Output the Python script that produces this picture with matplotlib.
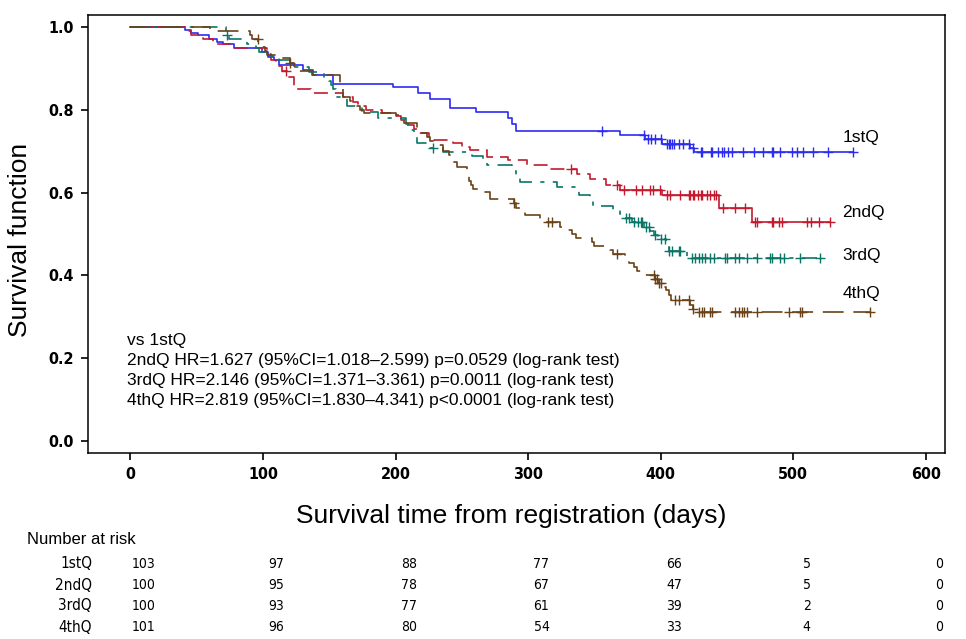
import numpy as np
import matplotlib
matplotlib.use("Agg")
import matplotlib.pyplot as plt
import matplotlib.transforms as mtransforms
from matplotlib.font_manager import FontProperties, findfont

# ---------------- data ----------------
groups = ["1stQ", "2ndQ", "3rdQ", "4thQ"]

q1_times = [41, 46, 51, 59, 65, 70, 78, 99, 104, 108, 112, 130, 138, 153, 198, 217, 226, 241, 261, 285, 288, 291,
            369, 388, 401, 422, 425]
q1_surv = [0.993, 0.986, 0.980, 0.971, 0.964, 0.958, 0.950, 0.940, 0.928, 0.920, 0.908, 0.896, 0.884, 0.862,
           0.854, 0.840, 0.826, 0.804, 0.795, 0.780, 0.765, 0.748, 0.739, 0.729, 0.718, 0.708, 0.699]
q1_cens = [356, 387, 390, 393, 396, 400, 405, 406, 407, 408.5, 410, 413.5, 417, 421,
           424.5, 430, 431, 438, 439, 443.5, 446, 448, 451, 454, 462, 470, 477, 484, 485, 490, 499, 503, 507,
           515, 526, 545]

q2_times = [41, 46, 55, 62, 76, 103, 106, 110, 114, 118, 123, 136, 160, 168, 172, 178, 190, 200, 204, 207, 214,
            218, 225, 228, 243, 250, 256, 269, 285, 299, 314, 337, 347, 359, 369, 401, 444, 469]
q2_surv = [0.990, 0.980, 0.970, 0.960, 0.950, 0.935, 0.920, 0.905, 0.893, 0.880, 0.850, 0.840, 0.830, 0.820,
           0.810, 0.800, 0.792, 0.785, 0.775, 0.763, 0.754, 0.744, 0.735, 0.727, 0.719, 0.711, 0.703, 0.687,
           0.679, 0.667, 0.656, 0.646, 0.633, 0.619, 0.606, 0.593, 0.564, 0.530]
q2_cens = [117, 332, 367, 372, 381, 386, 392, 394.5, 399.6, 404.7, 407, 414.7, 421, 422, 424, 425, 428, 430,
           431, 435, 437, 440, 442, 447, 456, 463.6, 471, 472.6, 484, 485, 489, 491.5, 510, 513, 519, 528]

q3_times = [72, 74, 88, 95, 97, 103, 112, 120, 123, 135, 146, 150, 151, 153, 155, 163, 175, 187, 208, 211, 214,
            216, 225, 236, 258, 266, 269, 288, 291, 294, 322, 336, 338, 347, 349, 364, 369, 372, 378, 387, 392,
            395, 398, 404, 406, 420]
q3_surv = [0.980, 0.970, 0.960, 0.950, 0.940, 0.930, 0.920, 0.911, 0.904, 0.892, 0.880, 0.870, 0.860, 0.850,
           0.830, 0.809, 0.795, 0.780, 0.765, 0.751, 0.735, 0.720, 0.708, 0.699, 0.689, 0.678, 0.667, 0.652,
           0.636, 0.626, 0.614, 0.604, 0.594, 0.580, 0.568, 0.558, 0.548, 0.539, 0.530, 0.518, 0.508, 0.498,
           0.488, 0.474, 0.460, 0.441]
q3_cens = [73, 228.5, 374, 376, 380, 383, 385, 386, 389, 391, 396, 400, 403, 406.5, 408.5, 413.5, 414.7, 423.5,
           426, 428.5, 431, 433.6, 437, 440, 448.7, 450, 456, 458.7, 465, 472.6, 482.6, 484, 490, 492.7, 505,
           520.4]

q4_times = [60, 90, 92, 96.5, 99, 101.5, 103, 110, 120, 123, 125.4, 137, 158, 159, 160, 165.7, 170, 173, 176,
            200, 203, 206, 216, 219, 223.5, 226, 229, 236, 240, 243.6, 246, 253.7, 255, 257, 258.7, 262, 271,
            289, 291, 297.7, 309, 324, 328, 333, 336, 348, 350, 362, 364, 373, 376, 380, 382, 385, 396, 398,
            402, 404, 406, 408, 422, 424, 426]
q4_surv = [0.990, 0.980, 0.971, 0.960, 0.952, 0.942, 0.932, 0.925, 0.913, 0.905, 0.894, 0.884, 0.862, 0.850,
           0.832, 0.821, 0.810, 0.800, 0.792, 0.787, 0.776, 0.768, 0.755, 0.745, 0.735, 0.725, 0.715, 0.700,
           0.690, 0.675, 0.662, 0.640, 0.628, 0.618, 0.608, 0.601, 0.585, 0.575, 0.563, 0.546, 0.529, 0.518,
           0.510, 0.500, 0.490, 0.480, 0.471, 0.461, 0.452, 0.441, 0.430, 0.421, 0.411, 0.401, 0.391, 0.382,
           0.373, 0.365, 0.353, 0.341, 0.329, 0.320, 0.311]
q4_cens = [96, 120, 289, 315, 318, 367, 395, 396, 397, 399, 400, 411, 413.5, 421, 424, 428.5, 431, 432.3, 437,
           438.6, 456, 458.7, 461, 462.5, 465, 472.6, 496.5, 505, 506.4, 558]

risk_times = [0, 100, 200, 300, 400, 500, 600]
risk_q1 = [103, 97, 88, 77, 66, 5, 0]
risk_q2 = [100, 95, 78, 67, 47, 5, 0]
risk_q3 = [100, 93, 77, 61, 39, 2, 0]
risk_q4 = [101, 96, 80, 54, 33, 4, 0]

stats_lines = ["vs 1stQ",
               "2ndQ HR=1.627 (95%CI=1.018\u20132.599) p=0.0529 (log-rank test)",
               "3rdQ HR=2.146 (95%CI=1.371\u20133.361) p=0.0011 (log-rank test)",
               "4thQ HR=2.819 (95%CI=1.830\u20134.341) p<0.0001 (log-rank test)"]

x_ticks = [0, 100, 200, 300, 400, 500, 600]
y_ticks = [0.0, 0.2, 0.4, 0.6, 0.8, 1.0]

# ---------------- style ----------------
plt.rcParams["lines.scale_dashes"] = False
REG = ["Liberation Sans", "DejaVu Sans"]

# pick a condensed face if the system has one
_cond = findfont(FontProperties(family="DejaVu Sans", stretch="condensed", weight="bold"))
if "ondensed" in _cond:
    NARROW = dict(family=["DejaVu Sans"], fontstretch="condensed")
else:
    NARROW = dict(family=REG)
tick_size, num_size, row_size = 11.5, 10, 11

colors = {"1stQ": "#2b2bf2", "2ndQ": "#c41a30", "3rdQ": "#0a7567", "4thQ": "#6a4218"}
dashes = {"1stQ": None, "2ndQ": (10, 5), "3rdQ": (11, 6, 3, 6), "4thQ": (15, 7)}
solid_after = {"2ndQ": 369}
label_pos = {"1stQ": 0.732, "2ndQ": 0.551, "3rdQ": 0.449, "4thQ": 0.357}

series = {
    "1stQ": (q1_times, q1_surv, q1_cens),
    "2ndQ": (q2_times, q2_surv, q2_cens),
    "3rdQ": (q3_times, q3_surv, q3_cens),
    "4thQ": (q4_times, q4_surv, q4_cens),
}
risks = {"1stQ": risk_q1, "2ndQ": risk_q2, "3rdQ": risk_q3, "4thQ": risk_q4}

W, H = 966, 639
fig = plt.figure(figsize=(W / 100, H / 100), dpi=100)
ax = fig.add_axes([88 / W, 1 - 453 / H, (944.5 - 88) / W, (453 - 15) / H])


def surv_at(times, surv, t):
    idx = np.searchsorted(np.asarray(times), t, side="right") - 1
    s = np.concatenate([[1.0], np.asarray(surv)])
    return s[idx + 1]


for g in groups:
    t, s, c = series[g]
    end = max(max(t), max(c))
    xs = np.array([0.0] + list(t) + [end])
    ys = np.array([1.0] + list(s) + [s[-1]])
    col = colors[g]
    if dashes[g] is None:
        ax.step(xs, ys, where="post", color=col, lw=1.2)
    elif g in solid_after:
        sp = solid_after[g]
        m1 = xs <= sp
        x1 = np.append(xs[m1], sp)
        y1 = np.append(ys[m1], ys[m1][-1])
        ax.step(x1, y1, where="post", color=col, lw=1.2, dashes=dashes[g])
        m2 = xs >= sp
        ax.step(xs[m2], ys[m2], where="post", color=col, lw=1.2)
    else:
        ax.step(xs, ys, where="post", color=col, lw=1.2, dashes=dashes[g])
    cy = surv_at(t, s, np.asarray(c))
    ax.plot(c, cy, linestyle="none", marker="+", ms=6.5, mew=1.0, color=col)
    ax.text(537, label_pos[g], g, fontsize=12.5, family=REG, ha="left", va="center")

ax.set_xlim(-32, 614)
ax.set_ylim(-0.029, 1.029)
ax.set_xticks(x_ticks)
ax.set_yticks(y_ticks)
ax.set_xticklabels([str(v) for v in x_ticks], fontweight="bold", fontsize=tick_size, **NARROW)
ax.set_yticklabels([f"{v:.1f}" for v in y_ticks], fontweight="bold", fontsize=tick_size, **NARROW)
ax.tick_params(direction="out", length=5, width=1.2, pad=5)
ax.tick_params(axis="y", pad=5)
for sp in ax.spines.values():
    sp.set_linewidth(1.1)

# statistics annotation
for i, line in enumerate(stats_lines):
    fig.text(127 / W, 1 - (340 + 20 * i) / H, line, fontsize=12.5, family=REG, ha="left", va="center")

# axis titles
fig.text(511 / W, 1 - 516 / H, "Survival time from registration (days)", fontsize=19, family=REG,
         ha="center", va="center")
fig.text(20 / W, 1 - 240 / H, "Survival function", fontsize=19, family=REG, rotation=90,
         ha="center", va="center")

# number at risk table
fig.text(27 / W, 1 - 539 / H, "Number at risk", fontsize=12, family=REG, ha="left", va="center")
blend = mtransforms.blended_transform_factory(ax.transData, fig.transFigure)
row_y = [564, 585, 606, 627]
for g, ry in zip(groups, row_y):
    fig.text(92 / W, 1 - ry / H, g, fontsize=row_size, ha="right", va="center", **NARROW)
    for tt, n in zip(risk_times, risks[g]):
        ax.text(tt + 10, 1 - ry / H, str(n), transform=blend, fontsize=num_size,
                ha="center", va="center", clip_on=False, **NARROW)

fig.savefig("out.png", dpi=100)
